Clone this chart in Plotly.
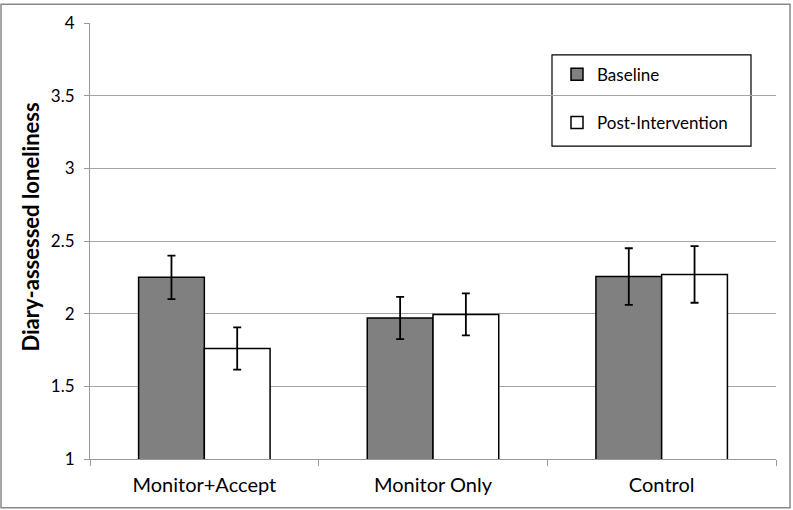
import plotly.graph_objects as go

categories = ["Monitor+Accept", "Monitor Only", "Control"]
baseline = [2.25, 1.97, 2.255]
baseline_err = [0.15, 0.145, 0.195]
post = [1.76, 1.995, 2.27]
post_err = [0.145, 0.145, 0.195]
y_ticks = [1, 1.5, 2, 2.5, 3, 3.5, 4]
y_tick_labels = ["1", "1.5", "2", "2.5", "3", "3.5", "4"]

W, H = 793, 510
ml, mr, mt, mb = 90, 17, 20, 51
pw, ph = W - ml - mr, H - mt - mb

def px(x):
    return (x - ml) / pw

def py(y):
    return (H - mb - y) / ph

font = "Lato, 'Open Sans', sans-serif"

fig = go.Figure()
fig.add_trace(go.Bar(
    name="Baseline", x=categories, y=baseline,
    marker=dict(color="#808080", line=dict(color="black", width=1.5)),
    error_y=dict(type="data", array=baseline_err, color="black", thickness=1.8, width=4),
    legendgroup="a",
))
fig.add_trace(go.Bar(
    name="Post-Intervention", x=categories, y=post,
    marker=dict(color="white", line=dict(color="black", width=1.5)),
    error_y=dict(type="data", array=post_err, color="black", thickness=1.8, width=4),
    legendgroup="b",
))

fig.update_layout(
    width=W, height=H,
    margin=dict(l=ml, r=mr, t=mt, b=mb),
    paper_bgcolor="white", plot_bgcolor="white",
    barmode="group", bargap=0.425, bargroupgap=0,
    font=dict(family=font, size=19, color="black"),
    showlegend=True,
    legend=dict(
        x=px(557), y=py(54), xanchor="left", yanchor="top",
        bgcolor="rgba(0,0,0,0)", borderwidth=0,
        traceorder="grouped", tracegroupgap=23,
        font=dict(family=font, size=17, color="black"),
        itemwidth=30,
    ),
    xaxis=dict(
        showline=True, linecolor="#999999", linewidth=1.2,
        ticks="outside", ticklen=6, tickcolor="#999999", tickson="boundaries",
        showgrid=False, tickfont=dict(size=20), ticklabelstandoff=8,
    ),
    yaxis=dict(
        range=[1, 4], tickvals=y_ticks, ticktext=y_tick_labels,
        showline=True, linecolor="#999999", linewidth=1.2,
        ticks="outside", ticklen=5, tickcolor="#999999",
        showgrid=True, gridcolor="#a6a6a6", gridwidth=1.2,
        zeroline=False, tickfont=dict(size=17), ticklabelstandoff=6,
    ),
    annotations=[
        dict(text="<b>Diary-assessed loneliness</b>", textangle=-90,
             xref="paper", yref="paper", x=px(31), y=py(226),
             xanchor="center", yanchor="middle", showarrow=False,
             font=dict(family=font, size=22, color="black")),
    ],
    shapes=[
        dict(type="rect", xref="paper", yref="paper",
             x0=px(552), x1=px(751), y0=py(144), y1=py(52),
             line=dict(color="black", width=1.2), fillcolor="rgba(0,0,0,0)", layer="below"),
        dict(type="rect", xref="paper", yref="paper",
             x0=px(1), x1=px(790), y0=py(508), y1=py(1),
             line=dict(color="#888888", width=1.5), fillcolor="rgba(0,0,0,0)"),
    ],
)

fig.write_html("out.html", config={"displayModeBar": False},
               post_script="document.body.style.margin='0';")
